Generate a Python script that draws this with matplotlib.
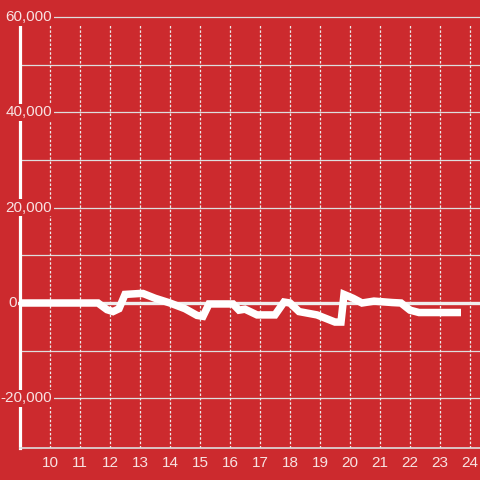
"""Recreate red line chart with zero baseline."""
import matplotlib
matplotlib.use('Agg')
import matplotlib.pyplot as plt
import matplotlib.transforms as mtransforms

BG = '#cc2a2e'
TXT = '#f8e2e2'
GRID = '#dedede'

# hour of day vs value
hours = [9.0, 11.6, 11.9, 12.1, 12.3, 12.5, 13.0, 13.1, 13.5, 14.0, 14.5, 14.9,
         15.1, 15.3, 16.1, 16.3, 16.5, 16.9, 17.5, 17.8, 18.0, 18.3, 18.9,
         19.5, 19.7, 19.8, 20.1, 20.4, 20.8, 21.4, 21.7, 22.0, 22.3, 23.7]
values = [0, 0, -1400, -1800, -1200, 1800, 2000, 2000, 1000, 0, -1200, -2600,
          -2800, -200, -200, -1500, -1300, -2500, -2500, 200, 0, -1800, -2500,
          -4000, -4000, 1800, 1000, 0, 400, 100, 0, -1500, -2000, -2000]

y_major = [-20000, 0, 20000, 40000, 60000]
y_labels = ['-20,000', '0', '20,000', '40,000', '60,000']
y_minor = [-10000, 10000, 30000, 50000]
x_ticks = list(range(10, 25))

fig = plt.figure(figsize=(4.8, 4.8), dpi=100)
fig.patch.set_facecolor(BG)
ax = fig.add_axes([20 / 480, 32 / 480, 460 / 480, 448 / 480])
ax.set_facecolor(BG)
ax.set_xlim(9, 24.333)
ax.set_ylim(-30430, 63590)

for s in ['top', 'right']:
    ax.spines[s].set_visible(False)
ax.spines['left'].set_color('white')
ax.spines['left'].set_linewidth(2.3)
ax.spines['left'].set_bounds(-30430, 58500)
ax.spines['bottom'].set_color(GRID)
ax.spines['bottom'].set_linewidth(1.2)

# grid
ax.hlines([v for v in y_major + y_minor if v != 0], 9, 24.333,
          color=GRID, lw=0.9, zorder=1)
ax.vlines(x_ticks, -30430, 58500, color='#ececec', lw=0.9,
          linestyles=(0, (2, 1.5)), zorder=1)
ax.plot([8.9, 24.333], [0, 0], color='#f0eeee', lw=2.4, zorder=2,
        clip_on=False, solid_capstyle='butt')

ax.plot(hours, values, color='white', lw=5.4, zorder=4,
        solid_joinstyle='miter', solid_capstyle='butt')

ax.set_yticks([])
ax.set_xticks(x_ticks)
ax.set_xticklabels([str(t) for t in x_ticks], fontsize=11, color=TXT,
                   family='Liberation Sans')
ax.tick_params(axis='x', length=0, pad=6)

trans = mtransforms.blended_transform_factory(ax.transAxes, ax.transData)
for v, lab in zip(y_major, y_labels):
    if lab == '0':
        x, ha = -12 / 460, 'left'
    else:
        x, ha = 32 / 460, 'right'
    ax.text(x, v, lab, transform=trans, ha=ha, va='center', fontsize=11,
            color=TXT, family='Liberation Sans', zorder=5, clip_on=False,
            bbox=dict(facecolor=BG, edgecolor='none', pad=1.2))

fig.savefig('out.png', dpi=100, facecolor=BG)
plt.close(fig)
